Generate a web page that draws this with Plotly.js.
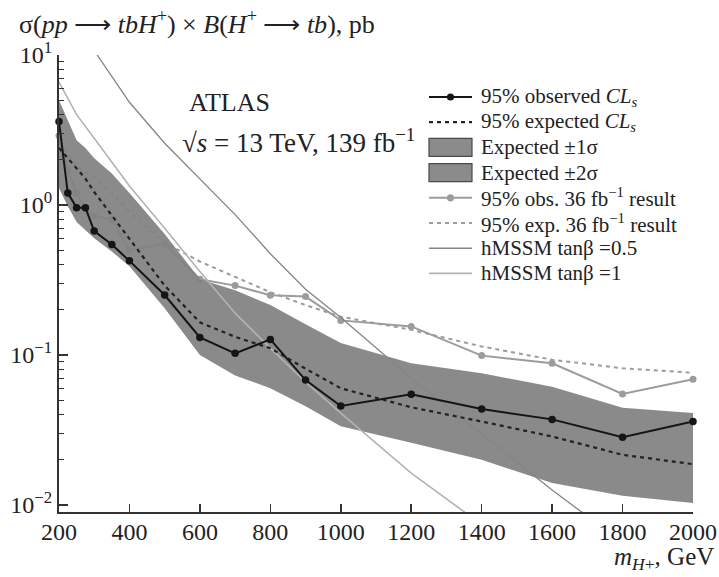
<!DOCTYPE html>
<html>
<head>
<meta charset="utf-8">
<script src="https://cdn.plot.ly/plotly-3.0.1.min.js"></script>
<style>html,body{margin:0;padding:0;background:#fff;}#chart{width:719px;height:577px;}</style>
</head>
<body>
<div id="chart"></div>
<script>
// ---- data ----
const massPoints = [200,225,250,275,300,350,400,500,600,700,800,900,1000,1200,1400,1600,1800,2000];
const observed139 = [3.6,1.2,0.96,0.96,0.67,0.545,0.424,0.251,0.131,0.1025,0.127,0.068,0.0457,0.0547,0.0436,0.0372,0.0283,0.036];
const expected139 = [2.4,2.05,1.75,1.5,1.22,0.85,0.6,0.29,0.165,0.132,0.111,0.081,0.06,0.0448,0.036,0.0286,0.0216,0.0187];
const band2sUpper = [5.0,3.7,2.7,2.4,2.05,1.62,1.2,0.64,0.32,0.27,0.215,0.16,0.12,0.088,0.0755,0.0615,0.0445,0.041];
const band2sLower = [1.3,0.98,0.77,0.68,0.6,0.49,0.39,0.205,0.1,0.073,0.06,0.0455,0.0335,0.026,0.02,0.014,0.0115,0.0103];
const observed36 = [2.9,1.7,1.2,0.95,0.84,0.8,0.5,0.55,0.32,0.29,0.25,0.245,0.17,0.155,0.099,0.088,0.055,0.069];
const expected36 = [2.6,2.2,1.8,1.65,1.55,1.2,0.9,0.56,0.42,0.33,0.262,0.215,0.18,0.147,0.114,0.093,0.0815,0.076];
const hmssmMass = [300,400,500,600,700,800,900,1000,1200,1400,1600,1800];
const hmssmTb05 = [10.7,4.84,2.58,1.5,0.863,0.473,0.274,0.178,0.0703,0.0297,0.0126,0.0056];
const hmssmTb1Mass = [200,250,300,400,500,600,700,800,900,1000,1200,1400];
const hmssmTb1 = [6.6,4.0,2.79,1.34,0.70,0.36,0.19,0.111,0.066,0.041,0.0163,0.0074];
const xTickVals = [200,400,600,800,1000,1200,1400,1600,1800,2000];
const yTickVals = [0.01,0.1,1,10];
const yTickText = ['10<sup>\u22122</sup>','10<sup>\u22121</sup>','10<sup>0</sup>','10<sup>1</sup>'];
const legendLabels = [
  '95% observed <i>CL<sub>s</sub></i>',
  '95% expected <i>CL<sub>s</sub></i>',
  'Expected \u00b11\u03c3',
  'Expected \u00b12\u03c3',
  '95% obs. 36 fb<sup>\u22121</sup> result',
  '95% exp. 36 fb<sup>\u22121</sup> result',
  'hMSSM tan\u03b2 =0.5',
  'hMSSM tan\u03b2 =1'
];

const minorVals = [];
for (let e = -3; e <= 1; e++) for (let k = 2; k <= 9; k++) minorVals.push(k * Math.pow(10, e));

const FONT = '"Liberation Serif"';
const bandFill = 'rgba(129,129,129,0.93)';
const bandSolid = '#8b8b8b';
const grayLine = '#9c9c9c';
const blackLine = '#151515';
const tb05Color = '#858585';
const tb1Color = '#b3b3b3';

const traces = [
  // 36 fb-1 results sit beneath the band, as in the reference
  {x: massPoints, y: expected36, mode:'lines', line:{color:grayLine, width:2, dash:'4px,4px'}, showlegend:false, cliponaxis:false},
  {x: massPoints, y: observed36, mode:'lines+markers', line:{color:grayLine, width:2}, marker:{color:grayLine, size:7}, showlegend:false, cliponaxis:false},
  {x: massPoints, y: band2sLower, mode:'lines', line:{width:0, color:bandSolid}, showlegend:false, hoverinfo:'skip'},
  {x: massPoints, y: band2sUpper, mode:'lines', fill:'tonexty', fillcolor:bandFill, line:{width:0, color:bandSolid}, showlegend:false, hoverinfo:'skip'},
  {x: hmssmMass, y: hmssmTb05, mode:'lines', line:{color:tb05Color, width:1.3}, showlegend:false},
  {x: hmssmTb1Mass, y: hmssmTb1, mode:'lines', line:{color:tb1Color, width:1.6}, showlegend:false},
  {x: massPoints, y: expected139, mode:'lines', line:{color:'#222', width:2.2, dash:'4px,4px'}, showlegend:false},
  {x: massPoints, y: observed139, mode:'lines+markers', line:{color:blackLine, width:2}, marker:{color:blackLine, size:7.5}, showlegend:false, cliponaxis:false}
];

// ---- hand-built legend (paper coordinates) ----
const L = 59, T = 55, W = 634, H = 457;
const px = v => (v - L) / W;
const py = v => 1 - (v - T) / H;
const rowY = i => 97 + 25.2 * i;
const sx0 = 429, sx1 = 472, textX = 479;
const shapes = [];
const annotations = [];
const sampleStyles = [
  {kind:'line', color:blackLine, width:2, dash:'solid', marker:true},
  {kind:'line', color:'#222', width:2.2, dash:'4px,4px'},
  {kind:'box'},
  {kind:'box'},
  {kind:'line', color:grayLine, width:2, dash:'solid', marker:true},
  {kind:'line', color:grayLine, width:2, dash:'4px,4px'},
  {kind:'line', color:tb05Color, width:1.5, dash:'solid'},
  {kind:'line', color:tb1Color, width:1.8, dash:'solid'}
];
sampleStyles.forEach((s, i) => {
  const yc = rowY(i);
  if (s.kind === 'box') {
    shapes.push({type:'rect', xref:'paper', yref:'paper', x0:px(sx0), x1:px(sx1), y0:py(yc - 9), y1:py(yc + 9),
                 fillcolor:bandSolid, line:{color:'#4a4a4a', width:1.2}});
  } else {
    shapes.push({type:'line', xref:'paper', yref:'paper', x0:px(sx0), x1:px(sx1), y0:py(yc), y1:py(yc),
                 line:{color:s.color, width:s.width, dash:s.dash}});
    if (s.marker) {
      const c = (sx0 + sx1) / 2;
      shapes.push({type:'circle', xref:'paper', yref:'paper', x0:px(c - 3.6), x1:px(c + 3.6), y0:py(yc - 3.6), y1:py(yc + 3.6),
                   fillcolor:s.color, line:{color:s.color, width:0}});
    }
  }
  annotations.push({xref:'paper', yref:'paper', x:px(textX), y:py(yc), xanchor:'left', yanchor:'middle', showarrow:false,
                    text:legendLabels[i], font:{family:FONT, size:21, color:'#222'}});
});

annotations.push(
  {xref:'paper', yref:'paper', x:px(17), y:py(23), xanchor:'left', yanchor:'middle', showarrow:false,
   text:'\u03c3(<i>pp</i> \u27f6 <i>tbH</i><sup>+</sup>) \u00d7 <i>B</i>(<i>H</i><sup>+</sup> \u27f6 <i>tb</i>), pb',
   font:{family:FONT, size:26, color:'#222'}},
  {xref:'paper', yref:'paper', x:px(716), y:py(558), xanchor:'right', yanchor:'middle', showarrow:false,
   text:'<i>m</i><sub><i>H</i>+</sub>, GeV', font:{family:FONT, size:25, color:'#222'}},
  {xref:'paper', yref:'paper', x:px(187), y:py(102), xanchor:'left', yanchor:'middle', showarrow:false,
   text:'ATLAS', font:{family:FONT, size:26, color:'#222'}},
  {xref:'paper', yref:'paper', x:px(180), y:py(141), xanchor:'left', yanchor:'middle', showarrow:false,
   text:'\u221a<i>s</i> = 13 TeV, 139 fb<sup>\u22121</sup>', font:{family:FONT, size:27, color:'#222'}}
);

const axisCommon = {
  showgrid:false, zeroline:false, showline:true, linecolor:'#333', linewidth:2,
  ticks:'inside', tickcolor:'#333', tickwidth:1.5,
  tickfont:{family:FONT, size:24, color:'#222'}, mirror:false
};

const layout = {
  width:719, height:577,
  margin:{l:L, r:719 - L - W, t:T, b:577 - T - H},
  paper_bgcolor:'#fff', plot_bgcolor:'#fff',
  font:{family:FONT, color:'#222'},
  showlegend:false,
  xaxis: Object.assign({}, axisCommon, {range:[200,2000], tickmode:'array', tickvals:xTickVals, ticklen:8, ticklabelstandoff:-3}),
  yaxis: Object.assign({}, axisCommon, {type:'log', range:[-2.047, 1], tickmode:'array', tickvals:yTickVals, ticktext:yTickText, ticklen:9,
          minor:{tickmode:'array', tickvals:minorVals, ticks:'inside', ticklen:5, tickcolor:'#333', tickwidth:1.2, showgrid:false}}),
  shapes: shapes,
  annotations: annotations
};

Plotly.newPlot('chart', traces, layout, {displayModeBar:false, staticPlot:true});
</script>
</body>
</html>
